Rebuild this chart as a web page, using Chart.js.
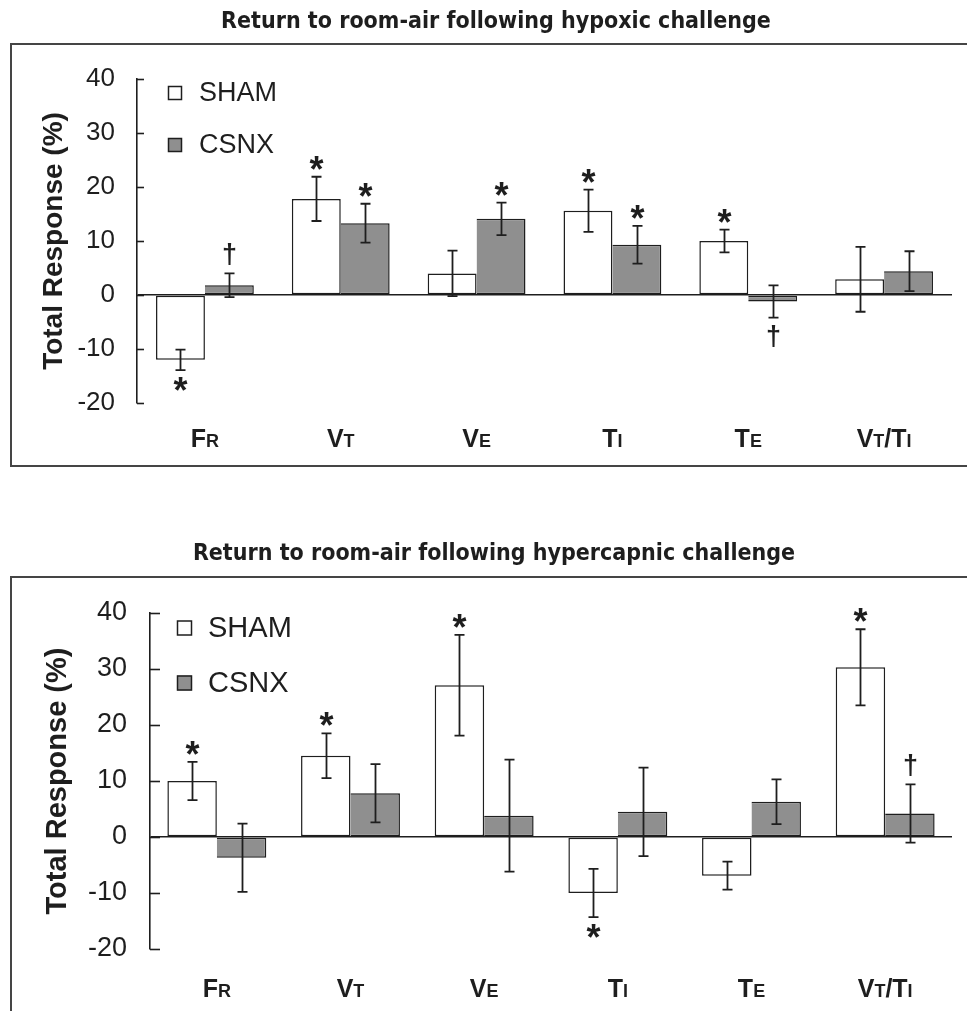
<!DOCTYPE html>
<html>
<head>
<meta charset="utf-8">
<script src="https://cdn.jsdelivr.net/npm/chart.js@4.4.1/dist/chart.umd.min.js"></script>
<style>
  html, body { margin: 0; padding: 0; background: #fff; overflow: hidden; }
  body { width: 967px; height: 1011px; position: relative; }
  .frame { position: absolute; left: 10px; width: 1000px; border: 2px solid #454545; border-right: none; box-sizing: border-box; }
  #frameTop { top: 43px; height: 424px; }
  #frameBottom { top: 576px; height: 500px; }
  .panel { position: absolute; left: 0; width: 967px; }
  #panelTop { top: 0; height: 470px; }
  #panelBottom { top: 520px; height: 491px; }
</style>
</head>
<body>
<div class="frame" id="frameTop"></div>
<div class="frame" id="frameBottom"></div>
<div class="panel" id="panelTop"><canvas id="chartHypox"></canvas></div>
<div class="panel" id="panelBottom"><canvas id="chartHyper"></canvas></div>
<script>
'use strict';
/* Total response after return to room air — SHAM vs CSNX, two panels */

const categories = ['Fr', 'Vt', 'Ve', 'Ti', 'Te', 'Vt/Ti'];   // lowercase = small caps
const yTicks     = [-20, -10, 0, 10, 20, 30, 40];

// hypoxic challenge
const hypoxSham    = [-12.0, 17.8, 4.0, 15.6, 10.0, 2.9];
const hypoxShamErr = [1.9, 4.1, 4.2, 3.9, 2.1, 6.0];
const hypoxCsnx    = [1.8, 13.3, 14.1, 9.3, -1.2, 4.4];
const hypoxCsnxErr = [2.2, 3.6, 3.0, 3.5, 3.0, 3.7];
const hypoxShamSig = ['*', '*', '', '*', '*', ''];
const hypoxCsnxSig = ['†', '*', '*', '*', '†', ''];

// hypercapnic challenge
const hyperSham    = [10.0, 14.5, 27.1, -10.0, -6.9, 30.3];
const hyperShamErr = [3.4, 4.0, 9.0, 4.3, 2.5, 6.8];
const hyperCsnx    = [-3.7, 7.8, 3.8, 4.5, 6.3, 4.2];
const hyperCsnxErr = [6.1, 5.2, 10.0, 7.9, 4.0, 5.2];
const hyperShamSig = ['*', '*', '*', '*', '', '*'];
const hyperCsnxSig = ['', '', '', '', '', '†'];

const INK  = '#1e1e1e';
const GREY = '#8f8f8f';
const SANS = "'Liberation Sans', Arial, sans-serif";
const TITLE_FONT = "'Liberation Sans Narrow', 'DejaVu Sans Condensed', " + SANS;

Chart.defaults.font.family = SANS;
Chart.defaults.color = INK;

// inward ticks, error bars, significance marks, legend and small-caps category labels
const panelDecor = {
  id: 'panelDecor',
  afterDatasetsDraw(chart, args, o) {
    const ctx = chart.ctx;
    const xs = chart.scales.x, ys = chart.scales.y;
    const area = chart.chartArea;
    ctx.save();
    ctx.strokeStyle = INK;
    ctx.fillStyle = INK;
    ctx.lineWidth = 1.6;

    ys.ticks.forEach(t => {
      const py = Math.round(ys.getPixelForValue(t.value)) + 0.5;
      ctx.beginPath();
      ctx.moveTo(area.left, py);
      ctx.lineTo(area.left + o.tickLen, py);
      ctx.stroke();
    });

    chart.data.datasets.forEach((ds, di) => {
      const meta = chart.getDatasetMeta(di);
      meta.data.forEach((bar, i) => {
        const v = ds.data[i], e = ds.err[i];
        const px = Math.round(bar.x) + 0.5;
        const yHi = ys.getPixelForValue(v + e);
        const yLo = ys.getPixelForValue(v - e);
        ctx.lineWidth = 1.8;
        ctx.beginPath();
        ctx.moveTo(px, yHi); ctx.lineTo(px, yLo);
        ctx.moveTo(px - o.cap, yHi); ctx.lineTo(px + o.cap, yHi);
        ctx.moveTo(px - o.cap, yLo); ctx.lineTo(px + o.cap, yLo);
        ctx.stroke();

        const mark = ds.sig[i];
        if (!mark) return;
        ctx.font = 'bold ' + (mark === '*' ? o.starSize : o.daggerSize) + 'px ' + SANS;
        ctx.textAlign = 'center';
        ctx.textBaseline = 'alphabetic';
        const m = ctx.measureText(mark);
        const asc = m.actualBoundingBoxAscent, desc = m.actualBoundingBoxDescent;
        let base;
        if (v >= 0) base = yHi - o.markGap - desc;
        else base = yLo + o.markGap + asc;
        ctx.fillText(mark, px, base);
      });
    });

    // legend
    const lg = o.legend;
    chart.data.datasets.forEach((ds, di) => {
      const cy = area.top + lg.dy + di * lg.step;
      const bx = area.left + lg.dx;
      ctx.fillStyle = ds.backgroundColor;
      ctx.fillRect(bx, cy - lg.box / 2, lg.box, lg.box);
      ctx.lineWidth = 1.5;
      ctx.strokeStyle = INK;
      ctx.strokeRect(bx + 0.5, cy - lg.box / 2 + 0.5, lg.box - 1, lg.box - 1);
      ctx.fillStyle = INK;
      ctx.font = lg.size + 'px ' + SANS;
      ctx.textAlign = 'left';
      ctx.textBaseline = 'middle';
      ctx.fillText(ds.label, area.left + lg.textDx, cy + 1);
    });

    // category labels with small capitals
    const big = 'bold ' + o.labelBig + 'px ' + SANS;
    const small = 'bold ' + o.labelSmall + 'px ' + SANS;
    ctx.textAlign = 'left';
    ctx.textBaseline = 'alphabetic';
    chart.data.labels.forEach((lab, i) => {
      const parts = lab.split('').map(ch => {
        const isSmall = ch !== ch.toUpperCase();
        ctx.font = isSmall ? small : big;
        return { t: ch.toUpperCase(), f: isSmall ? small : big, w: ctx.measureText(ch.toUpperCase()).width };
      });
      const total = parts.reduce((s, p) => s + p.w, 0);
      let cx = xs.getPixelForValue(i) - total / 2;
      const base = area.bottom + o.labelBase;
      parts.forEach(p => {
        ctx.font = p.f;
        ctx.fillText(p.t, cx, base);
        cx += p.w;
      });
    });
    ctx.restore();
  }
};

function buildPanel(canvasId, title, sham, shamErr, shamSig, csnx, csnxErr, csnxSig, look) {
  const ctx = document.getElementById(canvasId);
  return new Chart(ctx, {
    type: 'bar',
    data: {
      labels: categories,
      datasets: [
        { label: 'SHAM', data: sham, err: shamErr, sig: shamSig,
          backgroundColor: '#ffffff', borderColor: INK, borderWidth: 1.5, borderSkipped: false,
          inflateAmount: 0, barPercentage: 1, categoryPercentage: look.catPct },
        // shares the SHAM bar's right edge, so its own left edge is left out
        { label: 'CSNX', data: csnx, err: csnxErr, sig: csnxSig,
          backgroundColor: GREY, borderColor: INK, borderWidth: 1.5, borderSkipped: 'left',
          inflateAmount: 0, barPercentage: 1, categoryPercentage: look.catPct }
      ]
    },
    options: {
      responsive: true, maintainAspectRatio: false,
      animation: false,
      layout: { padding: look.padding },
      plugins: {
        legend: { display: false },
        tooltip: { enabled: false },
        title: {
          display: true, text: title, color: INK,
          font: { family: TITLE_FONT, size: look.titleSize, weight: 'bold', lineHeight: 1.2 },
          padding: look.titlePad
        },
        panelDecor: look.decor
      },
      scales: {
        x: { display: false },
        y: {
          min: yTicks[0], max: yTicks[yTicks.length - 1],
          afterBuildTicks: s => { s.ticks = yTicks.map(v => ({ value: v })); },
          afterFit: s => { s.width = look.axisWidth; },
          ticks: { padding: look.tickPad, color: INK, font: { size: look.tickSize } },
          grid: {
            drawTicks: false,
            lineWidth: 1.6,
            color: c => (c.tick && c.tick.value === 0) ? INK : 'rgba(0,0,0,0)'
          },
          border: { display: true, color: INK, width: 1.6 },
          title: {
            display: true, text: 'Total Response (%)', color: INK,
            font: { size: look.yTitleSize, weight: 'bold', lineHeight: 1.0 },
            padding: { top: look.yTitlePad, bottom: 0 }
          }
        }
      }
    },
    plugins: [panelDecor]
  });
}

buildPanel('chartHypox', 'Return to room-air following hypoxic challenge',
  hypoxSham, hypoxShamErr, hypoxShamSig, hypoxCsnx, hypoxCsnxErr, hypoxCsnxSig, {
    catPct: 0.72,
    padding: { top: 0, left: 40, right: 15, bottom: 67 },
    titleSize: 23, titlePad: { top: 8.2, bottom: 43.2 },
    axisWidth: 97, tickPad: 22, tickSize: 26,
    yTitleSize: 28, yTitlePad: 0,
    decor: {
      tickLen: 7, cap: 5, starSize: 36, daggerSize: 27, markGap: 7,
      labelBig: 25, labelSmall: 18, labelBase: 44,
      legend: { dx: 31, dy: 14, step: 52, box: 14, textDx: 62, size: 27 }
    }
  });

buildPanel('chartHyper', 'Return to room-air following hypercapnic challenge',
  hyperSham, hyperShamErr, hyperShamSig, hyperCsnx, hyperCsnxErr, hyperCsnxSig, {
    catPct: 0.74,
    padding: { top: 0, left: 36, right: 15, bottom: 62 },
    titleSize: 23, titlePad: { top: 20.2, bottom: 45.2 },
    axisWidth: 114, tickPad: 23, tickSize: 27,
    yTitleSize: 29, yTitlePad: 7.5,
    decor: {
      tickLen: 10, cap: 5, starSize: 36, daggerSize: 27, markGap: 7,
      labelBig: 25, labelSmall: 18, labelBase: 48,
      legend: { dx: 27, dy: 15, step: 55, box: 15, textDx: 58, size: 29 }
    }
  });
</script>
</body>
</html>
